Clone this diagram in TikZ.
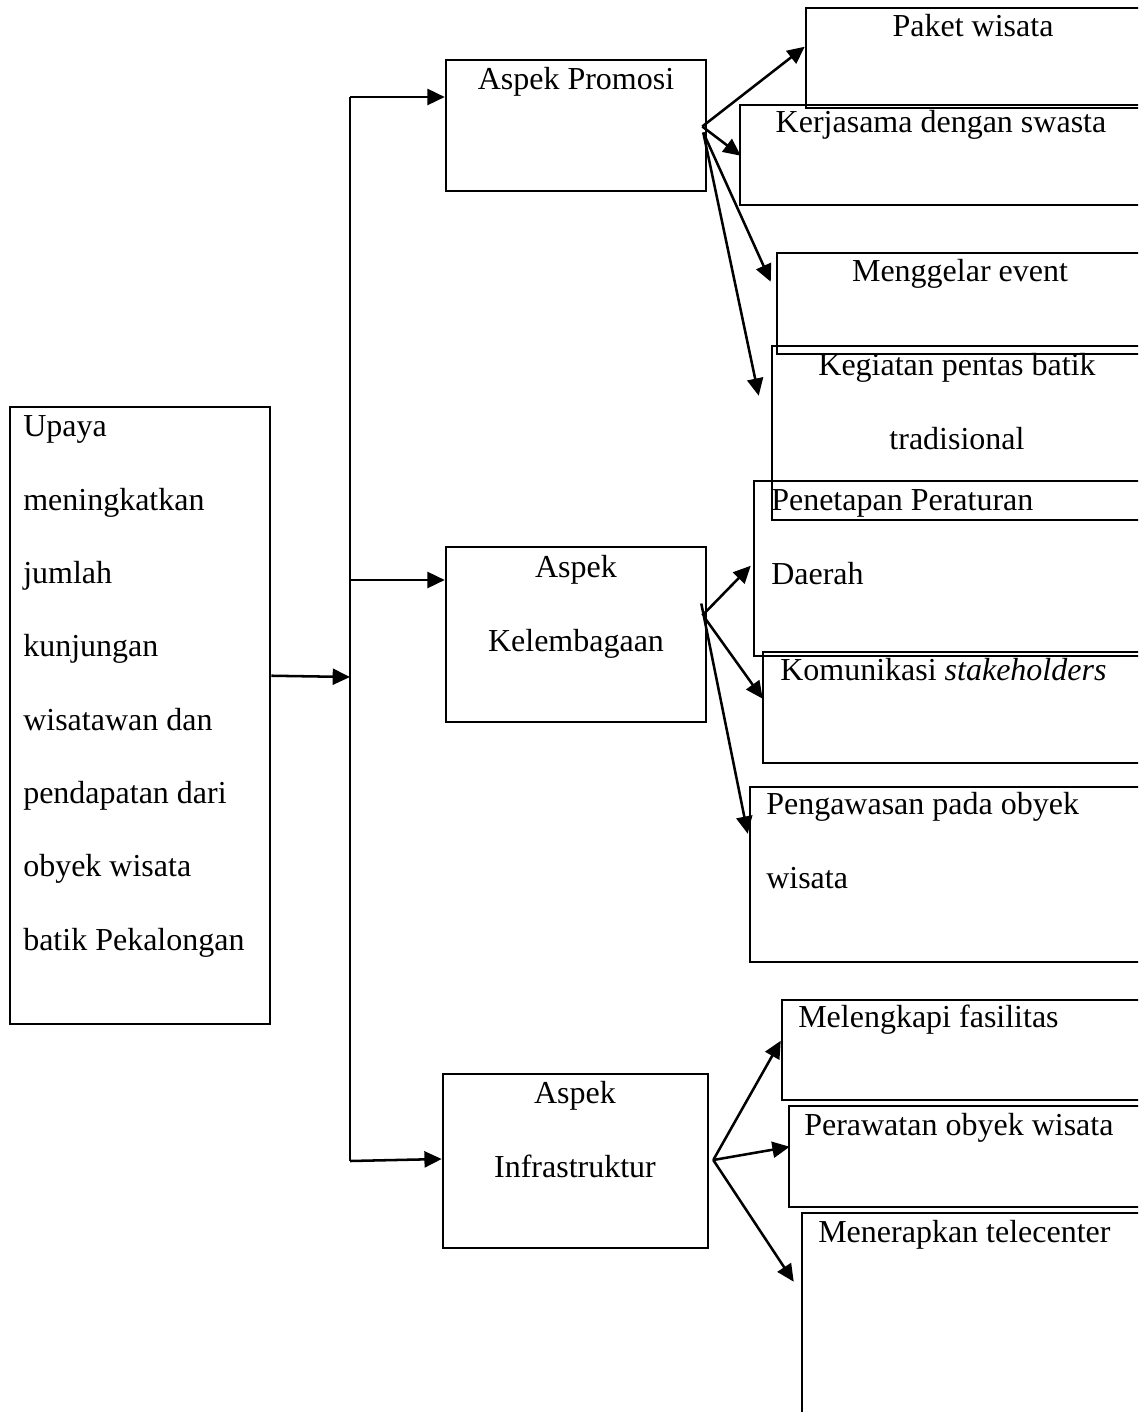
\documentclass[tikz,border=0pt]{standalone}
\usepackage{fontspec}
\setmainfont{Liberation Serif}
\usetikzlibrary{arrows.meta,calc,fit}

\begin{document}
\begin{tikzpicture}[
    x=0.375pt, y=-0.375pt,
    line width=0.95pt,
    box/.style={draw, rectangle, inner sep=0pt, fit={#1}},
    txt/.style={inner sep=0pt, anchor=base west, align=left,
                font=\fontsize{12}{27.5}\selectfont},
    ctxt/.style={txt, anchor=base, align=center},
    arr/.style={-{Triangle[length=6.5pt,width=6pt]}},
]
  \useasboundingbox (0,0) rectangle (1138,1412);
  \clip (0,0) rectangle (1138,1412);

  \node [box={(10,407) (270,1024)}]   (main) {};
  \node [box={(446,60) (706,191)}]    (prm)  {};
  \node [box={(446,547) (706,722)}]   (klb)  {};
  \node [box={(443,1074) (708,1248)}] (inf)  {};

  \node [box={(806,8) (1150,108)}]    (pkt)  {};
  \node [box={(740,105) (1150,205)}]  (krj)  {};
  \node [box={(777,253) (1150,354)}]  (mgl)  {};
  \node [box={(772,346) (1150,520)}]  (kgt)  {};
  \node [box={(754,481) (1150,656)}]  (ptp)  {};
  \node [box={(763,652) (1150,763)}]  (kom)  {};
  \node [box={(750,787) (1150,962)}]  (pgw)  {};
  \node [box={(782,1000) (1150,1100)}] (mlk) {};
  \node [box={(789,1106) (1150,1207)}] (prw) {};
  \node [box={(802,1213) (1150,1440)}] (mnr) {};

  % multi-line texts sit on the baseline of their last line
  \node [txt]  (main-t) at (22,950)  {Upaya\\meningkatkan\\jumlah\\kunjungan\\wisatawan dan\\pendapatan dari\\obyek wisata\\batik Pekalongan};
  \node [ctxt] (prm-t)  at (576,90)   {Aspek Promosi};
  \node [ctxt] (klb-t)  at (576,651)  {Aspek\\Kelembagaan};
  \node [ctxt] (inf-t)  at (575,1177) {Aspek\\Infrastruktur};

  \node [ctxt] (pkt-t)  at (973,37)   {Paket wisata};
  \node [ctxt] (krj-t)  at (941,133)  {Kerjasama dengan swasta};
  \node [ctxt] (mgl-t)  at (960,282)  {Menggelar event};
  \node [ctxt] (kgt-t)  at (957,449)  {Kegiatan pentas batik\\tradisional};
  \node [txt]  (ptp-t)  at (770,584)  {Penetapan Peraturan\\Daerah};
  \node [txt]  (kom-t)  at (779,680)  {Komunikasi \textit{stakeholders}};
  \node [txt]  (pgw-t)  at (765,888)  {Pengawasan pada obyek\\wisata};
  \node [txt]  (mlk-t)  at (797,1027) {Melengkapi fasilitas};
  \node [txt]  (prw-t)  at (803,1135) {Perawatan obyek wisata};
  \node [txt]  (mnr-t)  at (817,1242) {Menerapkan telecenter};

  \coordinate (jtop) at (350,97);
  \coordinate (jklb) at (350,580);
  \coordinate (jmid) at (350,677);
  \coordinate (jbot) at (350,1161);

  \draw (jtop) -- (jbot);
  \draw [arr] ($(main.north east)+(0,270)$) -- (jmid);
  \draw [arr] (jtop) -- (jtop -| prm.west);
  \draw [arr] (jklb) -- (jklb -| klb.west);
  \draw [arr] (jbot) -- ($(inf.west)+(0,-2)$);

  \draw ($(prm.east)+(-5,1)$)  edge [arr] ($(pkt.north west)+(0,40)$)
                               edge [arr] ($(krj.north west)+(2,52)$);
  \draw ($(prm.east)+(-4,7)$)  edge [arr] ($(mgl.north west)+(-5,30)$)
                               edge [arr] ($(kgt.north west)+(-12,51)$);

  \draw ($(klb.east)+(-5,-19)$) edge [arr] ($(ptp.north west)+(-2,86)$);
  \draw ($(klb.east)+(-2,-16)$) edge [arr] ($(kom.north west)+(1,48)$);
  \draw ($(klb.east)+(-6,-31)$) edge [arr] ($(pgw.north west)+(-1,48)$);

  \draw ($(inf.east)+(4,-1)$)  edge [arr] ($(mlk.north west)+(0,42)$)
                               edge [arr] ($(prw.north west)+(2,42)$)
                               edge [arr] ($(mnr.north west)+(-7,70)$);
\end{tikzpicture}
\end{document}
